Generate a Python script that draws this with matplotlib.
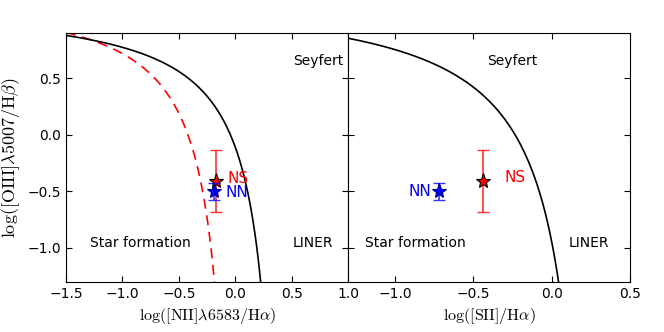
import numpy as np
import matplotlib
matplotlib.use("Agg")
import matplotlib.pyplot as plt

# demarcation curves: y = a / (x - b) + c
kewley_nii = (0.61, 0.47, 1.19)
kauff_nii = (0.61, 0.05, 1.30)
kewley_sii = (0.72, 0.32, 1.30)

# measured points
names = ["NS", "NN"]
nii_ha = [-0.17, -0.19]
sii_ha = [-0.44, -0.72]
oiii_hb = [-0.41, -0.50]
oiii_err = [0.275, 0.075]
colors = ["red", "blue"]

plt.rcParams["font.size"] = 10
plt.rcParams["mathtext.fontset"] = "cm"
plt.rcParams["xtick.direction"] = "in"
plt.rcParams["ytick.direction"] = "in"
plt.rcParams["xtick.top"] = True
plt.rcParams["ytick.right"] = True
plt.rcParams["xtick.major.size"] = 4
plt.rcParams["ytick.major.size"] = 4


def curve(x, p):
    a, b, c = p
    return a / (x - b) + c


fig, (ax1, ax2) = plt.subplots(1, 2, sharey=True, figsize=(6.64, 3.32), dpi=100)
fig.subplots_adjust(left=0.0994, right=0.949, top=0.9, bottom=0.1515, wspace=0)

x1 = np.linspace(-1.5, 0.46, 400)
ax1.plot(x1, curve(x1, kewley_nii), "k-", lw=1.2)
x2 = np.linspace(-1.5, 0.04, 400)
ax1.plot(x2, curve(x2, kauff_nii), "r--", lw=1.2, dashes=(6, 4), zorder=1)

x3 = np.linspace(-1.3, 0.31, 400)
ax2.plot(x3, curve(x3, kewley_sii), "k-", lw=1.2)

for ax, xs in ((ax1, nii_ha), (ax2, sii_ha)):
    for i in range(len(names)):
        ax.errorbar(xs[i], oiii_hb[i], yerr=oiii_err[i], color=colors[i], alpha=0.8,
                    capsize=4, lw=1.2, fmt="none")
        ax.plot(xs[i], oiii_hb[i], "*", color=colors[i], mec="k" if i == 0 else "navy",
                ms=11, mew=0.8)

ax1.text(-0.07, -0.39, "NS", color="red", va="center", ha="left", fontsize=11)
ax1.text(-0.09, -0.51, "NN", color="blue", va="center", ha="left", fontsize=11)
ax2.text(-0.77, -0.50, "NN", color="blue", va="center", ha="right", fontsize=11)
ax2.text(-0.30, -0.38, "NS", color="red", va="center", ha="left", fontsize=11)

ax1.text(0.74, 0.65, "Seyfert", ha="center", va="center")
ax2.text(-0.25, 0.65, "Seyfert", ha="center", va="center")
ax1.text(-0.84, -0.96, "Star formation", ha="center", va="center")
ax2.text(-0.87, -0.96, "Star formation", ha="center", va="center")
ax1.text(0.69, -0.96, "LINER", ha="center", va="center")
ax2.text(0.235, -0.96, "LINER", ha="center", va="center")

ax1.set_xlim(-1.5, 1.0)
ax2.set_xlim(-1.3, 0.5)
ax1.set_ylim(-1.3, 0.9)
ax1.set_xticks([-1.5, -1.0, -0.5, 0.0, 0.5, 1.0])
ax2.set_xticks([-1.0, -0.5, 0.0, 0.5])
ax1.set_yticks([-1.0, -0.5, 0.0, 0.5])

ax1.set_xlabel(r"$\log([\mathrm{NII}]\lambda6583/\mathrm{H}\alpha)$", fontsize=11.5)
ax2.set_xlabel(r"$\log([\mathrm{SII}]/\mathrm{H}\alpha)$", fontsize=11.5)
ax1.set_ylabel(r"$\log([\mathrm{OIII}]\lambda5007/\mathrm{H}\beta)$", fontsize=13)

fig.savefig("out.png", dpi=100)
